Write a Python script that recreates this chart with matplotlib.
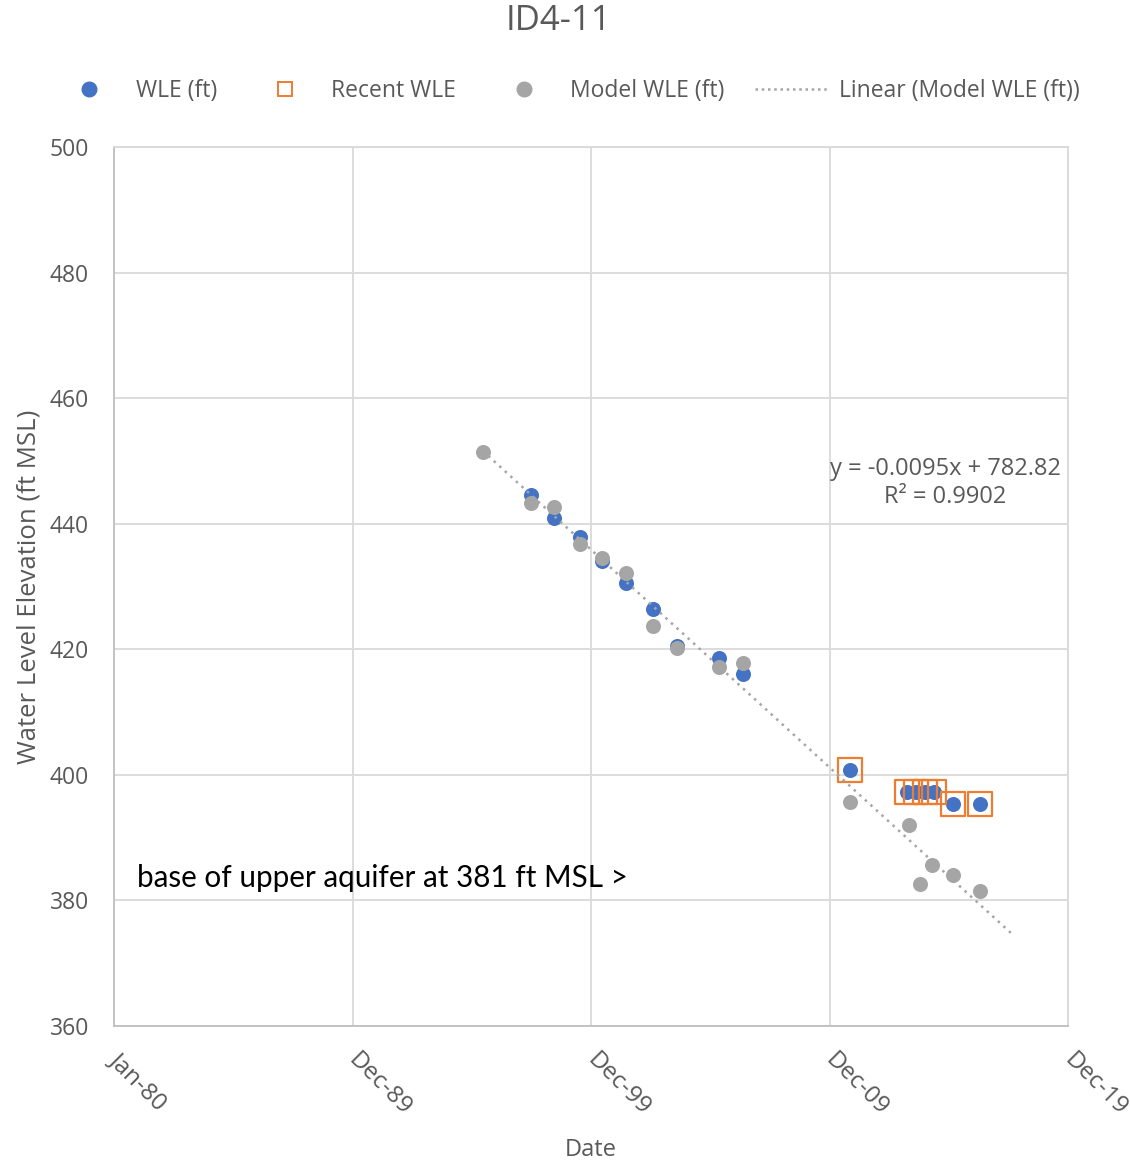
import numpy as np
import pandas as pd
import matplotlib
matplotlib.use('Agg')
import matplotlib.pyplot as plt
import matplotlib.dates as mdates
import matplotlib.transforms as mtransforms
from matplotlib.lines import Line2D

plt.rcParams['font.family'] = ['Open Sans', 'DejaVu Sans']

# measured water level elevations (ft MSL)
wle_dates = ['1997-06-26', '1998-06-09', '1999-07-16', '2000-06-15', '2001-06-19',
             '2002-07-28', '2003-08-09', '2005-05-12', '2006-05-15', '2010-11-03',
             '2013-03-29', '2013-08-09', '2013-12-25', '2014-05-11', '2015-03-03',
             '2016-04-14']
wle = [444.6, 440.9, 437.9, 434.1, 430.6, 426.4, 420.5, 418.6, 416.1, 400.8,
       397.3, 397.3, 397.3, 397.3, 395.3, 395.3]

# most recent readings, highlighted with squares
recent_dates = wle_dates[-7:]
recent_wle = wle[-7:]

# model water level elevations
model_dates = ['1995-06-14', '1997-06-26', '1998-06-09', '1999-07-16', '2000-06-15',
               '2001-06-19', '2002-07-28', '2003-08-09', '2005-05-12', '2006-05-15',
               '2010-11-03', '2013-04-26', '2013-10-09', '2014-04-06', '2015-03-03',
               '2016-04-14']
model_wle = [451.5, 443.3, 442.7, 436.7, 434.6, 432.1, 423.7, 420.2, 417.1, 417.8,
             395.6, 392.0, 382.6, 385.6, 384.1, 381.5]

# Excel trendline on the model series (x = Excel date serial)
slope = -0.0095
intercept = 782.82
r2 = 0.9902
trend_end = '2017-09-01'
excel_offset = 25569  # Excel serial of 1970-01-01

x_start = '1980-01-01'
x_step = 3650  # days between major ticks
n_ticks = 5
y_ticks = [360, 380, 400, 420, 440, 460, 480, 500]

blue = '#4472C4'
orange = '#ED7D31'
gray = '#A5A5A5'
txt = '#595959'

def to_num(d):
    return mdates.date2num(pd.to_datetime(d))

fig = plt.figure(figsize=(11.3, 11.62), dpi=100)
ax = fig.add_axes([114 / 1130, 1 - 1026 / 1162, 954 / 1130, 879 / 1162])

ax.scatter(to_num(wle_dates), wle, s=117, color=blue, zorder=3, linewidths=0)
ax.scatter(to_num(recent_dates), recent_wle, s=300, marker='s', facecolors='none',
           edgecolors=orange, linewidths=1.6, zorder=4)
ax.scatter(to_num(model_dates), model_wle, s=117, color=gray, zorder=5, linewidths=0)

tx = np.array([to_num(model_dates[0]), to_num(trend_end)])
ty = slope * (tx + excel_offset) + intercept
ax.plot(tx, ty, color=gray, lw=1.8, linestyle=(0, (1, 2)), zorder=6)

x0 = to_num(x_start)
ticks = [x0 + i * x_step for i in range(n_ticks)]
ax.set_xlim(ticks[0], ticks[-1])
ax.set_xticks(ticks)
ax.xaxis.set_major_formatter(mdates.DateFormatter('%b-%y'))
ax.set_ylim(360, 500)
ax.set_yticks(y_ticks)

ax.grid(True, color='#D9D9D9', lw=1.3)
ax.set_axisbelow(True)
for s in ax.spines.values():
    s.set_color('#D9D9D9')
    s.set_linewidth(1.3)
ax.spines['left'].set_color('#BFBFBF')
ax.spines['bottom'].set_color('#BFBFBF')
ax.tick_params(length=0, labelsize=16.5, labelcolor=txt)
ax.tick_params(axis='y', pad=18)
ax.tick_params(axis='x', pad=16, labelsize=17.5)
shift = mtransforms.ScaledTranslation(8 / 100, 0, fig.dpi_scale_trans)
for lab in ax.get_xticklabels():
    lab.set_rotation(-45)
    lab.set_ha('left')
    lab.set_va('top')
    lab.set_rotation_mode('anchor')
    lab.set_transform(lab.get_transform() + shift)

ax.set_xlabel('Date', fontsize=17, color=txt, va='center')
ax.xaxis.set_label_coords(0.5, (1026 - 1150) / 879)
ax.set_ylabel('Water Level Elevation (ft MSL)', fontsize=18.5, color=txt, labelpad=6)
fig.text(558 / 1130, 1 - 21 / 1162, 'ID4-11', fontsize=25, color=txt,
         ha='center', va='center')

ax.text(to_num('2014-10-27'), 446.5,
        f'y = {slope}x + {intercept}\nR\u00b2 = {r2}',
        fontsize=17, color=txt, ha='center', va='center', linespacing=1.25)
ax.text(to_num('1980-12-18'), 383.6, 'base of upper aquifer at 381 ft MSL >',
        fontsize=21.3, color='black', ha='left', va='center', family=['Lato', 'DejaVu Sans'])

handles = [
    Line2D([], [], ls='none', marker='o', ms=10.5, mfc=blue, mec=blue),
    Line2D([], [], ls='none', marker='s', ms=9.5, mfc='none', mec=orange, mew=1.4),
    Line2D([], [], ls='none', marker='o', ms=10.5, mfc=gray, mec=gray),
    Line2D([], [], color=gray, lw=1.8, ls=(0, (1, 1.5))),
]
labels = ['WLE (ft)', 'Recent WLE', 'Model WLE (ft)', 'Linear (Model WLE (ft))']
leg = fig.legend(handles, labels, loc='center', bbox_to_anchor=(566 / 1130, 1 - 91 / 1162),
                 ncol=4, frameon=False, fontsize=16.5, handlelength=3.2,
                 handletextpad=0.43, columnspacing=1.35)
for t in leg.get_texts():
    t.set_color(txt)

fig.savefig('out.png', dpi=100)
